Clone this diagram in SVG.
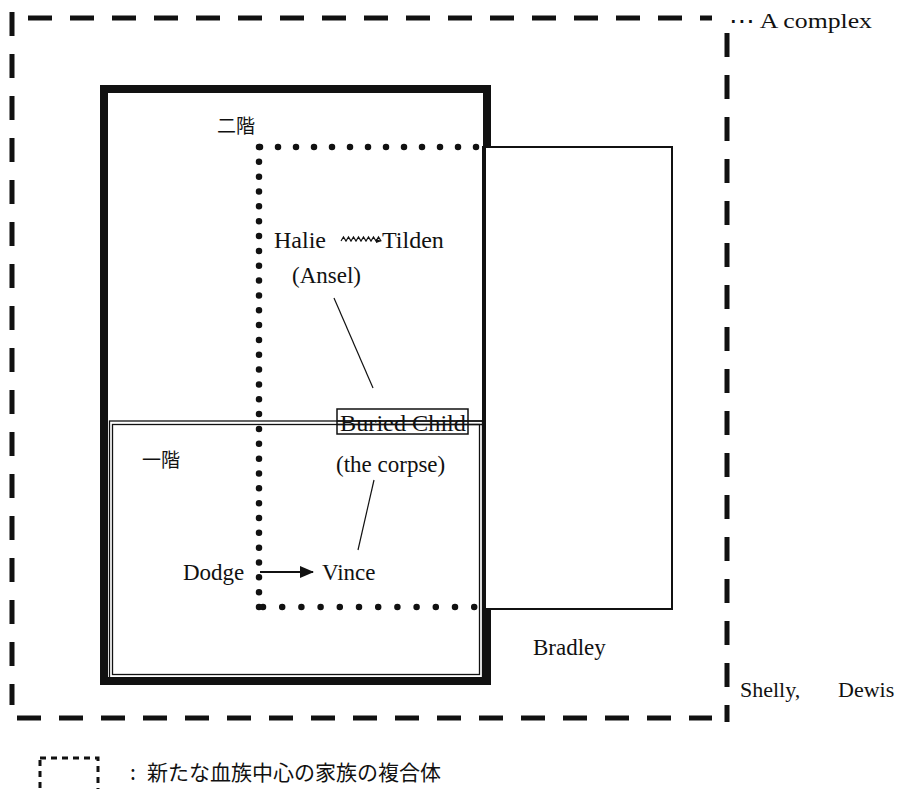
<svg xmlns="http://www.w3.org/2000/svg" width="900" height="789" viewBox="0 0 900 789">
<style>
.serif{font-family:"Liberation Serif","DejaVu Serif",serif;fill:#111}
.cjk{font-family:"Noto Sans CJK JP","Noto Sans CJK SC",sans-serif;fill:#111}
.dash{fill:none;stroke:#111;stroke-width:5;stroke-dasharray:24 18}
.dots{fill:none;stroke:#111;stroke-width:6.5;stroke-linecap:round}
.thin{fill:none;stroke:#111;stroke-width:1.3}
.conn{fill:none;stroke:#111;stroke-width:1.2}
</style>
<defs>
<marker id="ah" viewBox="0 0 14 12" refX="13" refY="6" markerWidth="14" markerHeight="12" markerUnits="userSpaceOnUse" orient="auto">
<path d="M0,0 L14,6 L0,12 Z" fill="#111"/>
</marker>
</defs>
<rect width="900" height="789" fill="#fff"/>

<g id="complex-outer">
<line class="dash" x1="28" y1="18" x2="712" y2="18"/>
<line class="dash" x1="12" y1="12" x2="12" y2="705"/>
<line class="dash" x1="727" y1="33" x2="727" y2="722"/>
<line class="dash" x1="17" y1="718" x2="712" y2="718"/>
<text class="serif" x="729" y="28" font-size="22" textLength="143" lengthAdjust="spacingAndGlyphs">⋯ A complex</text>
</g>

<g id="bradley">
<rect x="484" y="147" width="188" height="462" fill="none" stroke="#111" stroke-width="2"/>
<text class="serif" x="533" y="655" font-size="23">Bradley</text>
</g>

<g id="house">
<path d="M487,148 V89 H104 V681 H487 V608" fill="none" stroke="#111" stroke-width="8"/>
<line x1="484" y1="146" x2="484" y2="610" stroke="#111" stroke-width="4"/>
<text class="cjk" x="217" y="133" font-size="19">二階</text>
</g>

<g id="first-floor">
<rect class="thin" x="109.5" y="421" width="373" height="257"/>
<rect class="thin" x="112.5" y="424.5" width="367" height="250"/>
<text class="cjk" x="142" y="467" font-size="19">一階</text>
</g>

<g id="blood-family">
<line class="dots" x1="260" y1="147" x2="476.5" y2="147" stroke-dasharray="0 18"/>
<line class="dots" x1="259" y1="147" x2="259" y2="607.5" stroke-dasharray="0 14.84"/>
<line class="dots" x1="263" y1="607" x2="476.5" y2="607" stroke-dasharray="0 19.2"/>
</g>

<g id="halie">
<text class="serif" x="274" y="248" font-size="24">Halie</text>
</g>
<g id="tilden">
<text class="serif" x="382" y="248" font-size="24">Tilden</text>
</g>
<g id="ansel">
<text class="serif" x="292" y="283" font-size="23">(Ansel)</text>
</g>
<g id="buried-child">
<rect x="337" y="409" width="131" height="25" fill="none" stroke="#111" stroke-width="1.5"/>
<text class="serif" x="340" y="431" font-size="23" textLength="126" lengthAdjust="spacingAndGlyphs">Buried Child</text>
<line x1="337" y1="421" x2="483" y2="421" stroke="#111" stroke-width="1.3"/>
<line x1="337" y1="424.5" x2="483" y2="424.5" stroke="#111" stroke-width="1.3"/>
<text class="serif" x="336" y="472" font-size="23">(the corpse)</text>
</g>
<g id="dodge">
<text class="serif" x="183" y="580" font-size="23">Dodge</text>
</g>
<g id="vince">
<text class="serif" x="322" y="580" font-size="23">Vince</text>
</g>
<g id="shelly-dewis">
<text class="serif" x="740" y="697" font-size="22">Shelly,</text>
<text class="serif" x="838" y="697" font-size="22">Dewis</text>
</g>

<g id="connectors">
<path class="conn" d="M341,241 l2.5,-4 l2.5,4 l2.5,-4 l2.5,4 l2.5,-4 l2.5,4 l2.5,-4 l2.5,4 l2.5,-4 l2.5,4 l2.5,-4 l2.5,4 l2.5,-4 l2.5,4 l2.5,-4 l2.5,4"/>
<path d="M376,239 l6,2 l-6,2 Z" fill="#111"/>
<line class="conn" x1="334" y1="298" x2="373" y2="388"/>
<line class="conn" x1="374" y1="480" x2="358" y2="550"/>
<line x1="260" y1="572" x2="313" y2="572" stroke="#111" stroke-width="1.8" marker-end="url(#ah)"/>
</g>

<g id="legend">
<rect x="40" y="758" width="58" height="45" fill="none" stroke="#111" stroke-width="3" stroke-dasharray="6 5"/>
<text class="cjk" x="130" y="780" font-size="21">:</text>
<text class="cjk" x="147" y="780" font-size="21">新たな血族中心の家族の複合体</text>
</g>
</svg>
